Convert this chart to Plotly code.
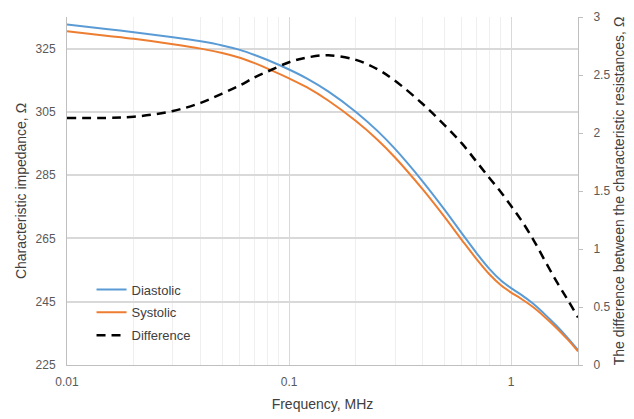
import plotly.graph_objects as go

freq = [0.01, 0.015, 0.02, 0.03, 0.04, 0.05, 0.06, 0.07, 0.08, 0.1, 0.12, 0.15,
        0.2, 0.25, 0.3, 0.4, 0.5, 0.6, 0.7, 0.8, 0.9, 1.0, 1.1, 1.25, 1.4, 1.6, 1.8, 2.0]
diastolic = [332.6, 331.2, 330.2, 328.6, 327.3, 326.0, 324.6, 323.0, 321.4, 318.4, 315.6, 311.5,
             305.0, 299.0, 293.3, 283.0, 274.2, 266.6, 260.3, 255.3, 251.7, 249.3, 247.4, 244.5,
             241.4, 237.4, 233.5, 229.7]
systolic = [330.5, 329.1, 328.1, 326.4, 325.0, 323.6, 322.1, 320.4, 318.7, 315.6, 312.8, 308.6,
            302.1, 296.2, 290.6, 280.5, 271.9, 264.5, 258.4, 253.6, 250.2, 247.9, 246.1, 243.4,
            240.5, 236.7, 233.0, 229.3]
difference = [2.13, 2.13, 2.14, 2.19, 2.26, 2.34, 2.41, 2.48, 2.53, 2.61, 2.65, 2.67,
              2.63, 2.55, 2.45, 2.25, 2.07, 1.91, 1.75, 1.61, 1.49, 1.37, 1.26, 1.09,
              0.92, 0.72, 0.56, 0.41]

x_ticks = [0.01, 0.1, 1]
x_ticktext = ["0.01", "0.1", "1"]
x_minor = [m * d for d in (0.01, 0.1, 1) for m in range(2, 10) if m * d <= 2.0]
y_left_ticks = [225, 245, 265, 285, 305, 325]
y_right_ticks = [0, 0.5, 1, 1.5, 2, 2.5, 3]
y_right_text = ["0", "0.5", "1", "1.5", "2", "2.5", "3"]

FONT = "Liberation Sans, Arial, sans-serif"
TICKC = "#595959"

fig = go.Figure()
fig.add_trace(go.Scatter(x=freq, y=diastolic, name="Diastolic", mode="lines", legendgroup="a",
                         line=dict(color="#5B9BD5", width=2, shape="spline")))
fig.add_trace(go.Scatter(x=freq, y=systolic, name="Systolic", mode="lines", legendgroup="b",
                         line=dict(color="#ED7D31", width=2, shape="spline")))
fig.add_trace(go.Scatter(x=freq, y=difference, name="Difference", mode="lines", yaxis="y2",
                         legendgroup="c",
                         line=dict(color="#000000", width=2.5, dash="9px,6px", shape="spline")))

fig.update_layout(
    width=634, height=419,
    margin=dict(l=67, r=56, t=10, b=51),
    paper_bgcolor="white", plot_bgcolor="white",
    font=dict(family=FONT, size=12, color=TICKC),
    showlegend=True,
    legend=dict(x=0.048, y=0.26, xanchor="left", yanchor="top",
                bgcolor="rgba(0,0,0,0)", font=dict(size=13, color="#404040"),
                tracegroupgap=3),
    xaxis=dict(type="log", range=[-2, 0.30103],
               tickvals=x_ticks, ticktext=x_ticktext,
               showgrid=True, gridcolor="#d9d9d9", gridwidth=1,
               minor=dict(tickvals=x_minor, showgrid=True, gridcolor="#efefef", gridwidth=1, ticks=""),
               showline=True, linecolor="#bfbfbf", linewidth=1,
               ticks="", ticklabelstandoff=6,
               tickfont=dict(size=12, color=TICKC),
               title=dict(text="Frequency, MHz", font=dict(size=14, color="#404040"), standoff=10),
               zeroline=False),
    yaxis=dict(range=[225, 335], tickvals=y_left_ticks,
               showgrid=True, gridcolor="#d9d9d9", gridwidth=1.5,
               showline=True, linecolor="#bfbfbf", linewidth=1,
               ticks="", ticklabelstandoff=8,
               tickfont=dict(size=12, color=TICKC),
               title=dict(text="Characteristic impedance, Ω", font=dict(size=14, color="#404040"), standoff=5),
               zeroline=False),
    yaxis2=dict(range=[0, 3], overlaying="y", side="right",
                tickvals=y_right_ticks, ticktext=y_right_text,
                showgrid=False, showline=True, linecolor="#bfbfbf", linewidth=1,
                ticks="outside", ticklen=4, tickcolor="#bfbfbf", ticklabelstandoff=8,
                tickfont=dict(size=12, color=TICKC),
                title=dict(text="The difference between the characteristic resistances, Ω",
                           font=dict(size=14, color="#404040"), standoff=4),
                zeroline=False),
)

fig.write_html("out.html")
